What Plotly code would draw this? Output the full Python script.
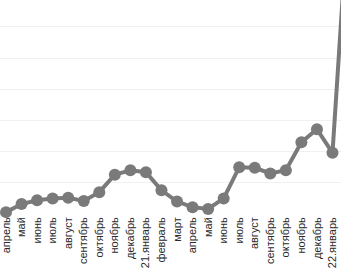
import plotly.graph_objects as go

labels = ["апрель", "май", "июнь", "июль", "август", "сентябрь", "октябрь",
          "ноябрь", "декабрь", "21.январь", "февраль", "март", "апрель", "май",
          "июнь", "июль", "август", "сентябрь", "октябрь", "ноябрь", "декабрь",
          "22.январь", "февраль"]
values = [3, 16, 22, 25, 26, 21, 35, 63, 70, 67, 38, 20, 11, 8, 25, 75, 74,
          65, 70, 115, 136, 98, 480]

xs = list(range(len(values)))

fig = go.Figure(go.Scatter(
    x=xs, y=values, mode="lines+markers",
    line=dict(color="#7a7a7a", width=4),
    marker=dict(color="#7a7a7a", size=12),
    cliponaxis=False,
))

fig.update_layout(
    width=341, height=275,
    margin=dict(l=0, r=0, t=0, b=61),
    plot_bgcolor="white", paper_bgcolor="white",
    showlegend=False,
    font=dict(family="Liberation Sans, Arial, sans-serif", size=11, color="#2a2a2a"),
)
fig.update_xaxes(
    range=[-0.386, 21.547],
    tickmode="array", tickvals=xs, ticktext=labels,
    tickangle=-90, showgrid=False, zeroline=False, showline=False,
    ticks="", ticklen=0, automargin=False, ticklabeloverflow="allow",
)
fig.update_yaxes(
    range=[0, 343], dtick=50, showticklabels=False,
    showgrid=True, gridcolor="#f0f0f0", gridwidth=1,
    zeroline=False, showline=False, automargin=False,
)

fig.write_html("out.html", config={"displayModeBar": False},
               post_script="document.body.style.margin='0';document.body.style.overflow='hidden';")
